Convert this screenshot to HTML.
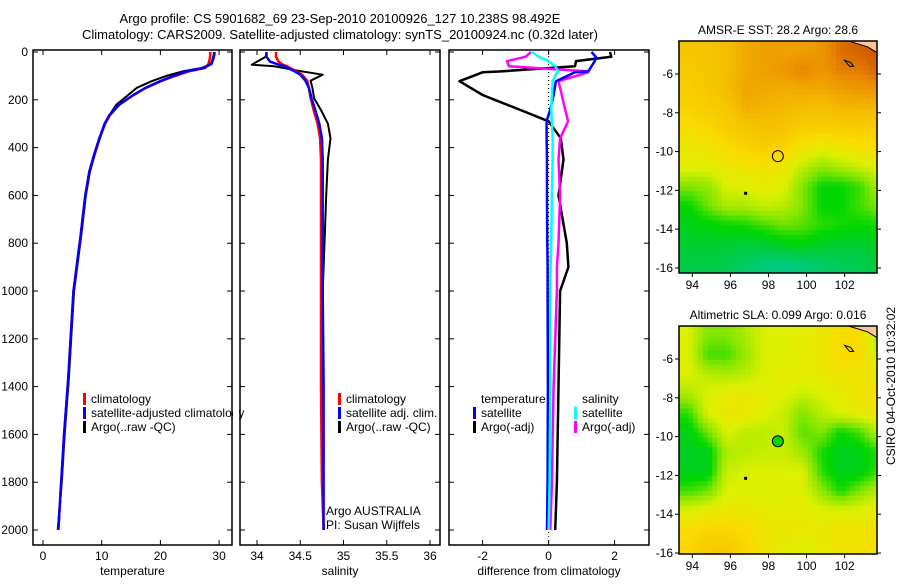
<!DOCTYPE html>
<html><head><meta charset="utf-8"><style>
body{margin:0;background:#fff;width:900px;height:580px;overflow:hidden;font-family:"Liberation Sans",sans-serif}
svg text{font-family:"Liberation Sans",sans-serif;font-size:12px;fill:#000}
</style></head><body>
<svg id="s" width="900" height="580" xmlns="http://www.w3.org/2000/svg">
<text x="340" y="23" text-anchor="middle" style="font-size:13px">Argo profile: CS 5901682_69 23-Sep-2010 20100926_127 10.238S 98.492E</text>
<text x="340" y="39" text-anchor="middle" style="font-size:13px">Climatology: CARS2009. Satellite-adjusted climatology: synTS_20100924.nc (0.32d later)</text>
</svg>
<script>
const depthT=[0,10,30,50,67,80,100,122,150,180,220,265,300,361,430,500,600,770,1000,1200,1370,1600,1800,2000];
const tempClim=[28.5,28.5,28.4,28.2,27.6,25,22.5,20,17.5,15.4,13,11.4,10.6,9.6,8.7,7.9,7.2,6.4,5.2,4.7,4.3,3.6,3.1,2.6];
const tempSat=[29.2,29.2,29.0,28.7,27.3,24.6,22.2,20,17.5,15.4,13,11.3,10.5,9.6,8.7,7.9,7.2,6.4,5.2,4.7,4.3,3.6,3.1,2.6];
const tempArgo=[29.1,29.1,28.9,28.6,27,24,21,18.5,16,14.5,12.5,11.3,10.6,9.7,8.8,8,7.3,6.5,5.3,4.8,4.4,3.7,3.2,2.5];
const depthS=[0,20,40,53,60,80,95,120,150,193,250,300,361,450,600,800,1000,1400,1800,2000];
const salClim=[34.22,34.22,34.25,34.3,34.35,34.45,34.52,34.58,34.6,34.62,34.66,34.7,34.73,34.74,34.74,34.74,34.74,34.74,34.75,34.77];
const salSat=[34.11,34.11,34.15,34.25,34.32,34.43,34.5,34.56,34.6,34.63,34.68,34.72,34.75,34.76,34.76,34.76,34.76,34.77,34.77,34.77];
const salArgo=[34.11,34.1,34.0,33.94,34.2,34.5,34.76,34.62,34.64,34.66,34.75,34.82,34.85,34.82,34.8,34.78,34.76,34.75,34.76,34.77];
const depthD=[0,20,38,60,81,85,122,180,240,290,361,450,600,800,900,1000,1400,1800,2000];
const tDiffArgo=[1.86,1.9,0.83,0.8,-1.44,-2.0,-2.7,-2.0,-0.9,0,0.37,0.45,0.3,0.55,0.6,0.35,0.3,0.25,0.2];
const tDiffSat=[1.3,1.43,1.4,1.3,1.2,0.8,0.22,0.15,0.05,-0.06,-0.06,-0.05,-0.05,-0.04,-0.03,-0.03,-0.02,-0.03,-0.05];
const sDiffArgo=[-0.53,-0.7,-1.26,-1.2,1.2,1.2,0.3,0.4,0.5,0.59,0.35,0.3,0.35,0.3,0.25,0.25,0.15,0.1,0.05];
const sDiffSat=[-0.5,-0.3,0,0.2,0.3,0.25,0.12,0.1,0.08,0.1,0.12,0.12,0.1,0.08,0.06,0.05,0.05,0.03,0];
const depthTicks=[0,200,400,600,800,1000,1200,1400,1600,1800,2000];
const tempTicks=[0,10,20,30];
const salTicks=[34,34.5,35,35.5,36];
const diffTicks=[-2,0,2];
const mapLats=[-4.8,-5.8,-6.8,-7.8,-8.8,-9.8,-10.8,-11.8,-12.8,-13.8,-14.8,-15.8];
const mapLons=[93.8,94.8,95.8,96.8,97.8,98.8,99.8,100.8,101.8,102.8,103.8];
const sstGrid=[
[.74,.74,.76,.80,.82,.82,.82,.84,.90,.92,.94],
[.72,.74,.76,.80,.82,.84,.87,.84,.88,.88,.92],
[.71,.73,.76,.81,.80,.79,.80,.80,.82,.84,.84],
[.69,.71,.73,.79,.78,.77,.76,.75,.77,.77,.77],
[.65,.67,.71,.73,.75,.74,.71,.71,.71,.71,.71],
[.60,.62,.66,.69,.71,.69,.63,.58,.62,.64,.66],
[.57,.57,.60,.62,.64,.60,.50,.44,.48,.52,.56],
[.42,.44,.55,.56,.58,.56,.42,.30,.30,.35,.48],
[.30,.40,.48,.48,.52,.50,.42,.30,.30,.36,.42],
[.26,.28,.30,.32,.36,.40,.38,.34,.32,.30,.32],
[.22,.22,.22,.20,.22,.26,.28,.24,.22,.22,.26],
[.18,.18,.16,.12,.08,.06,.08,.12,.14,.16,.18]];
const slaGrid=[
[.55,.42,.42,.48,.55,.55,.58,.60,.65,.66,.45],
[.55,.36,.36,.45,.55,.56,.58,.60,.66,.66,.52],
[.55,.50,.48,.50,.55,.58,.58,.60,.62,.62,.60],
[.48,.55,.58,.60,.58,.56,.52,.55,.58,.62,.64],
[.34,.55,.60,.60,.56,.52,.42,.50,.55,.58,.60],
[.26,.40,.55,.50,.50,.52,.38,.42,.30,.36,.50],
[.24,.26,.48,.50,.52,.52,.46,.32,.25,.26,.34],
[.25,.26,.52,.55,.55,.55,.55,.34,.25,.26,.36],
[.36,.40,.55,.55,.55,.56,.56,.44,.32,.42,.50],
[.55,.58,.60,.60,.58,.58,.58,.56,.55,.56,.58],
[.66,.68,.68,.66,.62,.60,.60,.60,.62,.62,.62],
[.68,.72,.72,.68,.62,.58,.56,.58,.62,.64,.64]];
const lonTicks=[94,96,98,100,102];
const latTicks=[-6,-8,-10,-12,-14,-16];
const argoLon=98.492, argoLat=-10.238;

const NS='http://www.w3.org/2000/svg';
const svg=document.getElementById('s');
function el(t,a,p){const e=document.createElementNS(NS,t);for(const k in a)e.setAttribute(k,a[k]);(p||svg).appendChild(e);return e;}
const yD=d=>52+d*0.239;
const P=[{x0:33,x1:232,f:v=>43+v*5.87,ticks:tempTicks,lab:'temperature',n:'temperature'},
{x0:240,x1:440,f:v=>257+(v-34)*86.5,ticks:salTicks,lab:'salinity',n:'salinity'},
{x0:449,x1:649,f:v=>548.6+v*33,ticks:diffTicks,lab:'difference from climatology',n:'difference'}];
P.forEach((p,i)=>{
  const g=el('g',{});
  
  
  el('rect',{x:p.x0,y:50,width:p.x1-p.x0,height:495,fill:'none',stroke:'#000','stroke-width':1.5},g);
  depthTicks.forEach(d=>{
    el('line',{x1:p.x0,x2:p.x0+5,y1:yD(d),y2:yD(d),stroke:'#000'},g);
    el('line',{x1:p.x1-5,x2:p.x1,y1:yD(d),y2:yD(d),stroke:'#000'},g);
    if(i==0){const t=el('text',{x:28,y:yD(d)+4,'text-anchor':'end'},g);t.textContent=d;
      }
  });
  p.ticks.forEach(v=>{
    el('line',{x1:p.f(v),x2:p.f(v),y1:540,y2:545,stroke:'#000'},g);
    el('line',{x1:p.f(v),x2:p.f(v),y1:50,y2:55,stroke:'#000'},g);
    const t=el('text',{x:p.f(v),y:560,'text-anchor':'middle'},g);t.textContent=v;
    
  });
  const t=el('text',{x:(p.x0+p.x1)/2,y:575,'text-anchor':'middle'},g);t.textContent=p.lab;
  
});
function line(depths,vals,f,col,name,w){
  const pts=depths.map((d,i)=>f(vals[i]).toFixed(1)+','+yD(d).toFixed(1)).join(' ');
  const e=el('polyline',{points:pts,fill:'none',stroke:col,'stroke-width':w||2.5,'stroke-linejoin':'round'});
  
}
el('line',{x1:P[2].f(0),x2:P[2].f(0),y1:52,y2:545,stroke:'#000','stroke-dasharray':'1,3'});
line(depthT,tempArgo,P[0].f,'#000','temp-argo-line',2);
line(depthT,tempClim,P[0].f,'#f00','temp-climatology-line');
line(depthT,tempSat,P[0].f,'#00f','temp-satellite-line');
line(depthS,salArgo,P[1].f,'#000','sal-argo-line',2);
line(depthS,salClim,P[1].f,'#f00','sal-climatology-line');
line(depthS,salSat,P[1].f,'#00f','sal-satellite-line');
line(depthD,tDiffArgo,P[2].f,'#000','temp-diff-argo-line');
line(depthD,sDiffArgo,P[2].f,'#f0f','sal-diff-argo-line');
line(depthD,tDiffSat,P[2].f,'#00f','temp-diff-satellite-line');
line(depthD,sDiffSat,P[2].f,'#0ff','sal-diff-satellite-line');
function leg(x,y,col,txt){
  if(col){const r=el('rect',{x:x,y:y-10,width:3,height:12,fill:col});
    }
  const t=el('text',{x:x+8,y:y});t.textContent=txt;
  
}
leg(83,403,'#f00','climatology');leg(83,417,'#00f','satellite-adjusted climatology');leg(83,431,'#000','Argo(..raw -QC)');
el('rect',{x:233,y:405,width:6,height:16,fill:'#fff'});
leg(338,403,'#f00','climatology');leg(338,417,'#00f','satellite adj. clim.');leg(338,431,'#000','Argo(..raw -QC)');
leg(473,403,null,'temperature');leg(473,417,'#00f','satellite');leg(473,431,'#000','Argo(-adj)');
leg(574,403,null,'salinity');leg(574,417,'#0ff','satellite');leg(574,431,'#f0f','Argo(-adj)');
[['Argo AUSTRALIA',515],['PI: Susan Wijffels',529]].forEach(a=>{const t=el('text',{x:326,y:a[1]});t.textContent=a[0];
  });

function cmap(v){
  const s=[[0,[0,200,160]],[.2,[0,205,60]],[.3,[0,215,0]],[.42,[130,230,0]],[.55,[220,240,0]],[.66,[250,220,0]],[.76,[245,190,0]],[.86,[235,140,0]],[.95,[200,75,0]],[1,[180,0,0]]];
  for(let i=1;i<s.length;i++)if(v<=s[i][0]){const a=s[i-1],b=s[i],t=(v-a[0])/(b[0]-a[0]);
    return 'rgb('+a[1].map((c,j)=>Math.round(c+(b[1][j]-c)*t)).join(',')+')';}
  return 'rgb(180,0,0)';
}
function sample(grid,r,c){
  const R=grid.length-1,C=grid[0].length-1;
  r=Math.max(0,Math.min(R,r));c=Math.max(0,Math.min(C,c));
  const r0=Math.floor(r),c0=Math.floor(c),r1=Math.min(R,r0+1),c1=Math.min(C,c0+1),fr=r-r0,fc=c-c0;
  return (grid[r0][c0]*(1-fc)+grid[r0][c1]*fc)*(1-fr)+(grid[r1][c0]*(1-fc)+grid[r1][c1]*fc)*fr;
}
function map(y0,y1,latA,latB,grid,title,name,circleFill){
  const x0=679,x1=877,lon0=93.3,lon1=103.7;
  const fx=l=>x0+(l-lon0)*(x1-x0)/(lon1-lon0), fy=la=>y0+(latA-la)*(y1-y0)/(latA-latB);
  const g=el('g',{});
  const cp=el('clipPath',{id:name+'c'},g);el('rect',{x:x0,y:y0,width:x1-x0,height:y1-y0},cp);
  const gg=el('g',{'clip-path':'url(#'+name+'c)'},g);
  const sub=4, step=1/sub;
  for(let la=mapLats[0]+0.5; la>mapLats[mapLats.length-1]-0.5-1e-6; la-=step){
    for(let lo=mapLons[0]-0.5; lo<mapLons[mapLons.length-1]+0.5; lo+=step){
      const r=(mapLats[0]-(la-step/2)), c=(lo+step/2-mapLons[0]);
      const v=sample(grid,r,c);
      const cell=el('rect',{x:fx(lo).toFixed(1),y:fy(la).toFixed(1),width:(fx(step)-fx(0)+0.6).toFixed(1),height:(fy(-step)-fy(0)+0.6).toFixed(1),fill:cmap(v)},gg);
      
    }
  }
  el('polygon',{points:`${fx(102.2)},${y0} ${x1},${y0} ${x1},${fy(-4.9)} ${fx(103.2)},${fy(-4.6)}`,fill:'#fbc49b',stroke:'#000'},gg);
  el('path',{d:`M${fx(102.0)},${fy(-5.3)} l6,2 l3,4 l-4,0 z`,fill:'none',stroke:'#000'},gg);
  el('rect',{x:x0,y:y0,width:x1-x0,height:y1-y0,fill:'none',stroke:'#000','stroke-width':1.5},g);
  lonTicks.forEach(l=>{el('line',{x1:fx(l),x2:fx(l),y1:y1,y2:y1+4,stroke:'#000'},g);
    const t=el('text',{x:fx(l),y:y1+16,'text-anchor':'middle'},g);t.textContent=l;
    });
  latTicks.forEach(l=>{el('line',{x1:x0-4,x2:x0,y1:fy(l),y2:fy(l),stroke:'#000'},g);
    el('line',{x1:x1,x2:x1+4,y1:fy(l),y2:fy(l),stroke:'#000'},g);
    const t=el('text',{x:x0-6,y:fy(l)+4,'text-anchor':'end'},g);t.textContent=l;
    });
  const t=el('text',{x:(x0+x1)/2,y:y0-7,'text-anchor':'middle'},g);t.textContent=title;
  
  const c=el('circle',{cx:fx(argoLon),cy:fy(argoLat),r:5.5,fill:circleFill,stroke:'#000'},g);
  
  el('rect',{x:fx(96.8)-1.5,y:fy(-12.15)-1.5,width:3,height:3,fill:'#000'},g);
}
map(41,273,-4.3,-16.26,sstGrid,'AMSR-E SST: 28.2 Argo: 28.6','sst-map','none');
map(326,554,-4.3,-16.05,slaGrid,'Altimetric SLA: 0.099 Argo: 0.016','sla-map',cmap(0.3));
const ct=el('text',{x:895,y:465,transform:'rotate(-90 895 465)'});ct.textContent='CSIRO 04-Oct-2010 10:32:02';

</script>
</body></html>
